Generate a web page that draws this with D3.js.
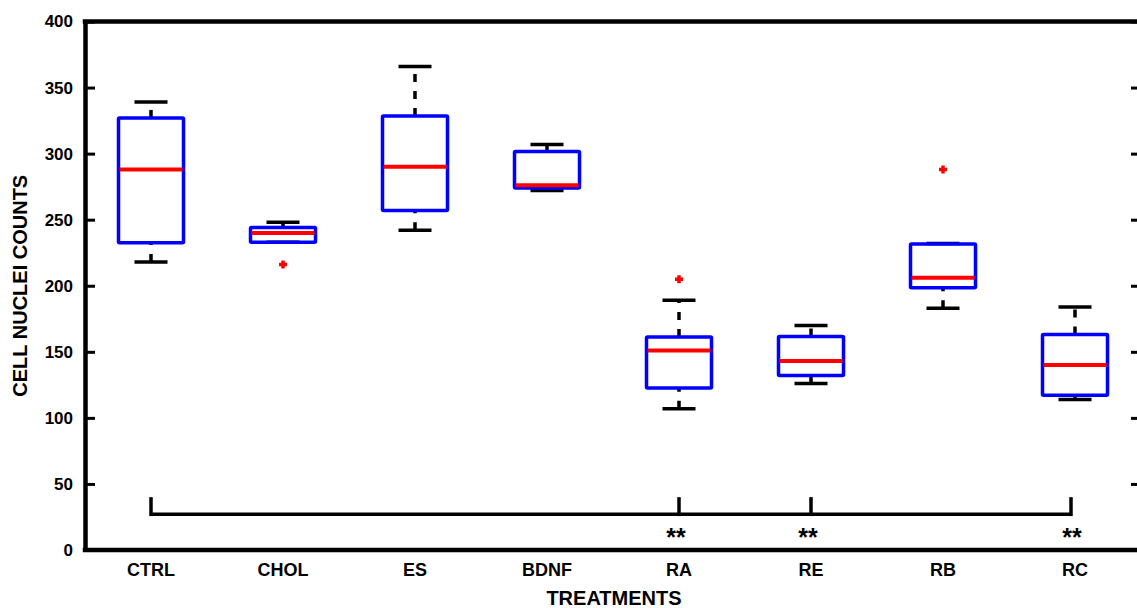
<!DOCTYPE html>
<html>
<head>
<meta charset="utf-8">
<script src="https://cdn.jsdelivr.net/npm/d3@7"></script>
<style>
  body { margin: 0; background: #fff; }
  text { font-family: "Liberation Sans", Arial, sans-serif; font-weight: bold; }
</style>
</head>
<body>
<div id="chartBox"></div>
<script>
// data
var categories = ["CTRL", "CHOL", "ES", "BDNF", "RA", "RE", "RB", "RC"];
var lowWhisker = [218, 233, 242, 272, 107, 126, 183, 114];
var q1 = [232.6, 233, 257, 274, 122.6, 132, 198.4, 117.2];
var medians = [288, 240, 290, 276, 151, 143, 206, 140];
var q3 = [327, 244, 328.4, 301.7, 161.3, 161.6, 231.6, 163.1];
var highWhisker = [339, 248, 366, 307, 189, 170, 232, 184];
var outlierCats = ["CHOL", "RA", "RB"];
var outlierVals = [216, 205, 288];
var yTicks = [0, 50, 100, 150, 200, 250, 300, 350, 400];
// significance bracket (CTRL vs marked groups)
var bracketFrom = "CTRL";
var sigCats = ["RA", "RE", "RC"];
var bracketLevel = 27;
var bracketTickTop = 40;

var width = 1137, height = 608;
var svg = d3.select("#chartBox").append("svg").attr("width", width).attr("height", height);

var plotLeft = 85, plotTop = 21.5, plotBottom = 550, step = 132;
var plotRight = plotLeft + step * categories.length;

var x_scale = d3.scaleBand().domain(categories).range([plotLeft, plotRight]);
var y_scale = d3.scaleLinear().domain([0, 400]).range([plotBottom, plotTop]);
var cx = function (c) { return x_scale(c) + x_scale.bandwidth() / 2; };

var lw = 3.5;
var boxW = 65, capW = 33;

// boxes
var boxes = svg.append("g");
categories.forEach(function (c, i) {
    var x = cx(c);
    // whiskers, dashed, drawn upward
    boxes.append("line")
        .attr("x1", x).attr("x2", x)
        .attr("y1", y_scale(lowWhisker[i])).attr("y2", y_scale(q1[i]))
        .attr("stroke", "#000").attr("stroke-width", lw).attr("stroke-dasharray", "8,9");
    boxes.append("line")
        .attr("x1", x).attr("x2", x)
        .attr("y1", y_scale(q3[i])).attr("y2", y_scale(highWhisker[i]))
        .attr("stroke", "#000").attr("stroke-width", lw).attr("stroke-dasharray", "8,9");
    // caps
    [lowWhisker[i], highWhisker[i]].forEach(function (v) {
        boxes.append("line")
            .attr("x1", x - capW / 2).attr("x2", x + capW / 2)
            .attr("y1", y_scale(v)).attr("y2", y_scale(v))
            .attr("stroke", "#000").attr("stroke-width", lw);
    });
    boxes.append("rect")
        .attr("x", x - boxW / 2)
        .attr("y", y_scale(q3[i]))
        .attr("width", boxW)
        .attr("height", y_scale(q1[i]) - y_scale(q3[i]))
        .attr("rx", 1)
        .attr("fill", "none").attr("stroke", "#0000ff").attr("stroke-width", lw);
    boxes.append("line")
        .attr("x1", x - boxW / 2 + 1).attr("x2", x + boxW / 2 - 1)
        .attr("y1", y_scale(medians[i])).attr("y2", y_scale(medians[i]))
        .attr("stroke", "#ff0000").attr("stroke-width", 4);
});

// outliers as red plus marks
outlierCats.forEach(function (c, i) {
    var x = cx(c), y = y_scale(outlierVals[i]);
    svg.append("path")
        .attr("d", "M" + (x - 4) + "," + y + "H" + (x + 4) + "M" + x + "," + (y - 4) + "V" + (y + 4))
        .attr("stroke", "#ff0000").attr("stroke-width", 3.5);
});

// significance bracket
var by = y_scale(bracketLevel);
svg.append("line")
    .attr("x1", cx(bracketFrom)).attr("x2", cx(sigCats[sigCats.length - 1]) - 4)
    .attr("y1", by).attr("y2", by)
    .attr("stroke", "#000").attr("stroke-width", 3.5);
[bracketFrom].concat(sigCats).forEach(function (c, i) {
    var x = cx(c) - (c === "RC" ? 4 : 0);
    svg.append("line")
        .attr("x1", x).attr("x2", x)
        .attr("y1", by + 1.75).attr("y2", y_scale(bracketTickTop))
        .attr("stroke", "#000").attr("stroke-width", 3.5);
});
sigCats.forEach(function (c) {
    svg.append("text")
        .attr("x", cx(c) - 3).attr("y", 546)
        .attr("text-anchor", "middle")
        .style("font-size", "25px")
        .text("**");
});

// axes
var y_axis = d3.axisLeft(y_scale).tickValues(yTicks).tickSize(-10).tickSizeOuter(0).tickPadding(12);
var gy = svg.append("g").attr("transform", "translate(" + plotLeft + ",0)").call(y_axis);
gy.selectAll(".tick line").attr("stroke-width", 3);
gy.select(".domain").attr("stroke-width", 4.5);
gy.selectAll("text").style("font-size", "17px").attr("fill", "#000");

var gr = svg.append("g").attr("transform", "translate(" + plotRight + ",0)")
    .call(d3.axisRight(y_scale).tickValues(yTicks).tickSize(-10).tickSizeOuter(0).tickFormat(""));
gr.selectAll(".tick line").attr("stroke-width", 3);
gr.select(".domain").attr("stroke-width", 4.5);

var x_axis = d3.axisBottom(x_scale).tickSize(0).tickPadding(13.5).tickSizeOuter(0);
var gx = svg.append("g").attr("transform", "translate(0," + plotBottom + ")").call(x_axis);
gx.select(".domain").attr("stroke-width", 4.5).attr("d", "M" + (plotLeft - 2.25) + ",0H" + plotRight);
gx.selectAll("text").style("font-size", "18px").attr("fill", "#000");

svg.append("line")
    .attr("x1", plotLeft - 2.25).attr("x2", plotRight)
    .attr("y1", plotTop).attr("y2", plotTop)
    .attr("stroke", "#000").attr("stroke-width", 4.5);

// axis titles
svg.append("text")
    .attr("x", (plotLeft + plotRight) / 2 + 1).attr("y", 605)
    .attr("text-anchor", "middle")
    .style("font-size", "20px")
    .text("TREATMENTS");
svg.append("text")
    .attr("transform", "translate(27," + ((plotTop + plotBottom) / 2) + ")rotate(-90)")
    .attr("text-anchor", "middle")
    .style("font-size", "20px")
    .text("CELL NUCLEI COUNTS");
</script>
</body>
</html>
